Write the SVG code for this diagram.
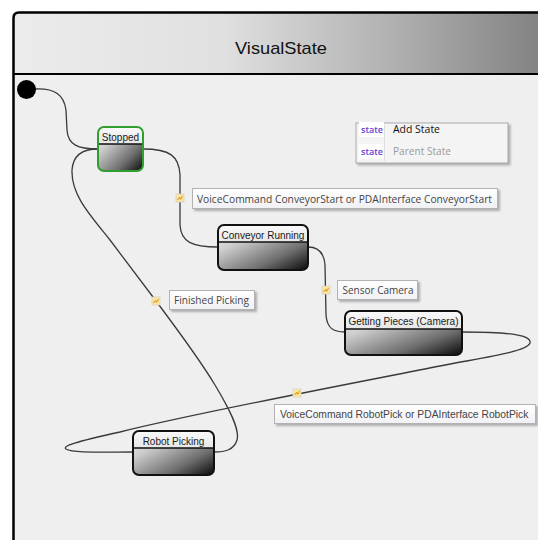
<svg xmlns="http://www.w3.org/2000/svg" width="538" height="540" viewBox="0 0 538 540">
  <defs>
    <linearGradient id="hdrGrad" gradientUnits="userSpaceOnUse" x1="13" y1="0" x2="538" y2="0">
      <stop offset="0" stop-color="#ececec"/>
      <stop offset="0.4" stop-color="#e0e0e0"/>
      <stop offset="0.7" stop-color="#b4b4b4"/>
      <stop offset="1" stop-color="#838383"/>
    </linearGradient>
    <linearGradient id="bodyGrad" x1="0" y1="0" x2="1" y2="1">
      <stop offset="0" stop-color="#f2f2f2"/>
      <stop offset="0.3" stop-color="#cdcdcd"/>
      <stop offset="0.7" stop-color="#6e6e6e"/>
      <stop offset="1" stop-color="#080808"/>
    </linearGradient>
    <linearGradient id="capGrad" x1="0" y1="0" x2="0" y2="1">
      <stop offset="0" stop-color="#fafafa"/>
      <stop offset="1" stop-color="#e6e6e6"/>
    </linearGradient>
    <linearGradient id="tagGrad" x1="0" y1="0" x2="0" y2="1">
      <stop offset="0" stop-color="#ffffff"/>
      <stop offset="1" stop-color="#f1f1f5"/>
    </linearGradient>
    <filter id="shadow" x="-10%" y="-30%" width="130%" height="180%">
      <feDropShadow dx="2" dy="2" stdDeviation="1" flood-color="#777" flood-opacity="0.55"/>
    </filter>
    <g id="trigger">
      <rect x="-4" y="-4" width="8" height="8" fill="#fbe7a4" stroke="#d8d2c0" stroke-width="0.8"/>
      <path d="M-2.5,2 L-0.5,-0.5 L0.8,1 L2.5,-2" fill="none" stroke="#e39a1c" stroke-width="1.1"/>
    </g>
  </defs>
  <style>
    .wire { fill: none; stroke: #3a3a3a; stroke-width: 1.3; }
    .node-body { fill: url(#bodyGrad); }
    .node-cap { fill: url(#capGrad); }
    .node-rim { fill: none; stroke: #111; stroke-width: 2; }
    .node-sep { stroke: #111; stroke-width: 1.6; }
    .node-name { font-family: "Liberation Sans", Arial, sans-serif; font-size: 10px; fill: #1a1a1a; text-anchor: middle; }
    .tag { fill: url(#tagGrad); stroke: #b2b2b2; stroke-width: 1; filter: url(#shadow); }
    .tag-text { font-family: "Open Sans", "Noto Sans", sans-serif; font-size: 10.5px; fill: #444; }
    .tag-text.narrow { font-family: "Liberation Sans", Arial, sans-serif; font-size: 10.3px; }
    .kw { font-family: "Open Sans", "Noto Sans", sans-serif; font-size: 9.5px; font-weight: 600; fill: #6a3fd0; }
  </style>

  <!-- page -->
  <rect x="0" y="0" width="538" height="540" fill="#ffffff"/>

  <!-- VisualState container -->
  <g id="container">
    <path d="M13,540 V18 Q13,12 19,12 H540 V540 Z" fill="#efefef"/>
    <path d="M13,74 V18 Q13,12 19,12 H540 V74 Z" fill="url(#hdrGrad)"/>
    <line x1="13" y1="74" x2="540" y2="74" stroke="#000" stroke-width="2"/>
    <path d="M13.5,540 V18 Q13.5,12.5 19,12.5 H540" fill="none" stroke="#000" stroke-width="2.5"/>
    <text x="281" y="54" font-family="Liberation Sans, Arial, sans-serif" font-size="17" fill="#111" text-anchor="middle" textLength="92" lengthAdjust="spacingAndGlyphs">VisualState</text>
  </g>

  <!-- palette -->
  <g id="palette">
    <rect x="356" y="123" width="152" height="40" fill="#f4f4f4" stroke="#a9a9a9" stroke-width="1" filter="url(#shadow)"/>
    <line x1="384.5" y1="125" x2="384.5" y2="161" stroke="#dedede" stroke-width="1"/>
    <rect x="359" y="122" width="25" height="15" fill="#ffffff"/>
    <rect x="359" y="144" width="25" height="15" fill="#ffffff"/>
    <text class="kw" x="361" y="132.5" textLength="22" lengthAdjust="spacingAndGlyphs">state</text>
    <text class="kw" x="361" y="154.5" textLength="22" lengthAdjust="spacingAndGlyphs">state</text>
    <text x="393" y="133" font-family="Open Sans, Noto Sans, sans-serif" font-size="10.5" fill="#111" textLength="47" lengthAdjust="spacingAndGlyphs">Add State</text>
    <text x="393" y="155" font-family="Open Sans, Noto Sans, sans-serif" font-size="10.5" fill="#9a9a9a" textLength="58" lengthAdjust="spacingAndGlyphs">Parent State</text>
  </g>

  <!-- transitions -->
  <g id="connectors">
    <path class="wire" d="M35,89 C55,88 64,95 66,110 L67,130 C68,145 78,149 98,149"/>
    <path class="wire" d="M143,149 C170,149 179,156 180,175 L180,225 C181,242 192,247 218,247"/>
    <path class="wire" d="M308,247 C318,247 324,252 325,265 L326,315 C327,328 333,332 345,332"/>
    <path class="wire" d="M462,332 C515,332 532,336 530,343 C527,352 480,358 440,366 C370,380 200,412 120,432 C75,442 62,446 66,449 C72,453 100,452 133,452"/>
    <path class="wire" d="M98,149 C82,149 73,155 72,170 C71,195 90,215 110,240 L156,301 C180,333 200,360 215,385 C230,410 240,430 237,440 C234,450 225,452 214,452"/>

    <use href="#trigger" x="180" y="198"/>
    <use href="#trigger" x="326" y="290"/>
    <use href="#trigger" x="156" y="301"/>
    <use href="#trigger" x="297" y="393"/>

    <rect class="tag" x="192.5" y="188.5" width="305" height="20"/>
    <text class="tag-text" x="197" y="203" textLength="295" lengthAdjust="spacingAndGlyphs">VoiceCommand ConveyorStart or PDAInterface ConveyorStart</text>

    <rect class="tag" x="337.5" y="280.5" width="80" height="19"/>
    <text class="tag-text" x="342.5" y="294" textLength="71" lengthAdjust="spacingAndGlyphs">Sensor Camera</text>

    <rect class="tag" x="169.5" y="290.5" width="85" height="19"/>
    <text class="tag-text" x="174" y="304" textLength="75" lengthAdjust="spacingAndGlyphs">Finished Picking</text>

    <rect class="tag" x="274.5" y="404.5" width="261" height="19"/>
    <text class="tag-text narrow" x="280" y="418">VoiceCommand RobotPick or PDAInterface RobotPick</text>
  </g>

  <!-- initial pseudo-state -->
  <g id="initial">
    <circle cx="26.5" cy="89.5" r="9.5" fill="#000"/>
  </g>

  <!-- states -->
  <g id="stopped">
    <rect class="node-body" x="98" y="127" width="45" height="44" rx="6"/>
    <path class="node-cap" d="M98,144 V133 Q98,127 104,127 H137 Q143,127 143,133 V144 Z"/>
    <line class="node-sep" x1="98" y1="144" x2="143" y2="144"/>
    <rect x="98" y="127" width="45" height="44" rx="6" fill="none" stroke="#2f9f2f" stroke-width="2"/>
    <text class="node-name" x="120.5" y="140.5">Stopped</text>
  </g>

  <g id="conveyor-running">
    <rect class="node-body" x="218" y="225" width="90" height="45" rx="6"/>
    <path class="node-cap" d="M218,242 V231 Q218,225 224,225 H302 Q308,225 308,231 V242 Z"/>
    <line class="node-sep" x1="218" y1="242" x2="308" y2="242"/>
    <rect class="node-rim" x="218" y="225" width="90" height="45" rx="6"/>
    <text class="node-name" x="263" y="238.5">Conveyor Running</text>
  </g>

  <g id="getting-pieces">
    <rect class="node-body" x="345" y="311" width="117" height="44" rx="6"/>
    <path class="node-cap" d="M345,329 V317 Q345,311 351,311 H456 Q462,311 462,317 V329 Z"/>
    <line class="node-sep" x1="345" y1="329" x2="462" y2="329"/>
    <rect class="node-rim" x="345" y="311" width="117" height="44" rx="6"/>
    <text class="node-name" x="403.5" y="325">Getting Pieces (Camera)</text>
  </g>

  <g id="robot-picking">
    <rect class="node-body" x="133" y="431" width="81" height="44" rx="6"/>
    <path class="node-cap" d="M133,448 V437 Q133,431 139,431 H208 Q214,431 214,437 V448 Z"/>
    <line class="node-sep" x1="133" y1="448" x2="214" y2="448"/>
    <rect class="node-rim" x="133" y="431" width="81" height="44" rx="6"/>
    <text class="node-name" x="173.5" y="444.5">Robot Picking</text>
  </g>
</svg>
